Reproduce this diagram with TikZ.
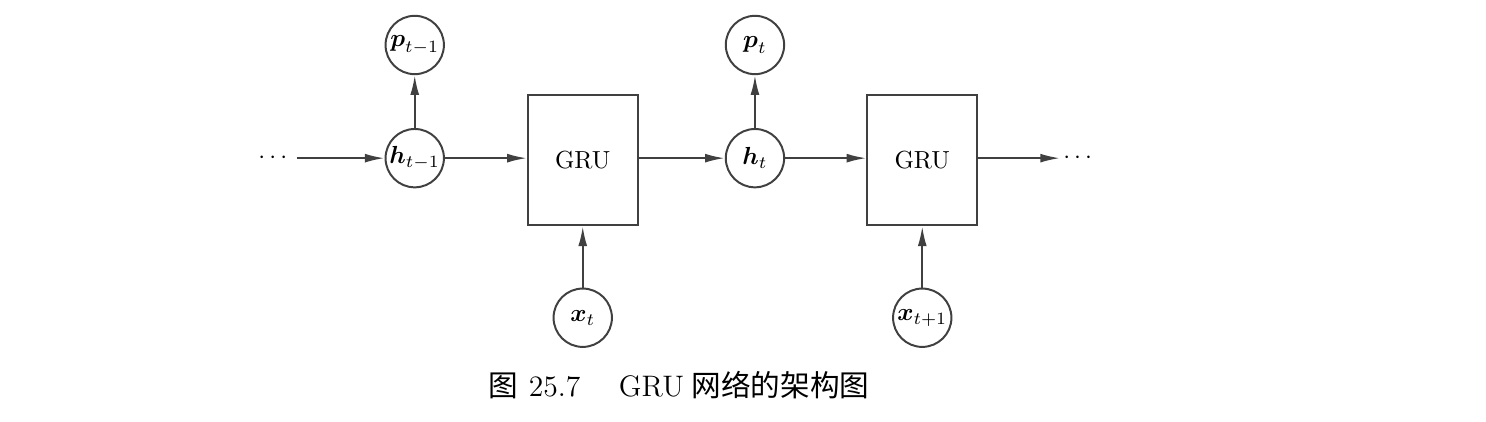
\documentclass[tikz,border=0pt]{standalone}
\usepackage{amsmath}
\usepackage{fontspec}
\newfontfamily\cjk{Noto Sans CJK SC}
\usetikzlibrary{arrows.meta}

\tikzset{
  state/.style={circle, draw=black!75, line width=0.8pt, minimum size=0.83cm, inner sep=0pt},
  grubox/.style={rectangle, draw=black!75, line width=0.8pt, minimum width=1.56cm, minimum height=1.85cm},
  flow/.style={draw=black!75, line width=0.8pt, -{Latex[length=8pt,width=3.6pt]}},
}

\begin{document}
\begin{tikzpicture}
        \useasboundingbox (0,0) rectangle (21.14,-6.0);

        % chain
        \node (dl) at (3.91,-2.25) {$\cdots$};
        \coordinate (dlend) at (4.22,-2.25);
        \node [state] (h1) at (5.90,-2.25) {$\boldsymbol{h}_{t-1}$};
        \node [state] (p1) at (5.90,-0.64) {$\boldsymbol{p}_{t-1}$};
        \node [grubox] (g1) at (8.29,-2.28) {GRU};
        \node [state] (x1) at (8.29,-4.52) {$\boldsymbol{x}_{t}$};
        \node [state] (h2) at (10.74,-2.25) {$\boldsymbol{h}_{t}$};
        \node [state] (p2) at (10.74,-0.64) {$\boldsymbol{p}_{t}$};
        \node [grubox] (g2) at (13.12,-2.28) {GRU};
        \node [state] (x2) at (13.12,-4.52) {$\boldsymbol{x}_{t+1}$};
        \coordinate (drend) at (15.08,-2.25);
        \node (dr) at (15.36,-2.25) {$\cdots$};

        \draw [flow] (dlend) -- (h1);
        \draw [flow] (h1) -- (p1);
        \draw [flow] (h1) -- (h1 -| g1.west);
        \draw [flow] (g1.east |- h2) -- (h2);
        \draw [flow] (x1) -- (g1);
        \draw [flow] (h2) -- (p2);
        \draw [flow] (h2) -- (h2 -| g2.west);
        \draw [flow] (g2.east |- h2) -- (drend);
        \draw [flow] (x2) -- (g2);

        % caption
        \node (cap) at (9.66,-5.48) {\large{\cjk 图}\hspace{0.35em}25.7\hspace{1.3em}GRU\hspace{0.25em}{\cjk 网络的架构图}};
      \end{tikzpicture}
\end{document}
